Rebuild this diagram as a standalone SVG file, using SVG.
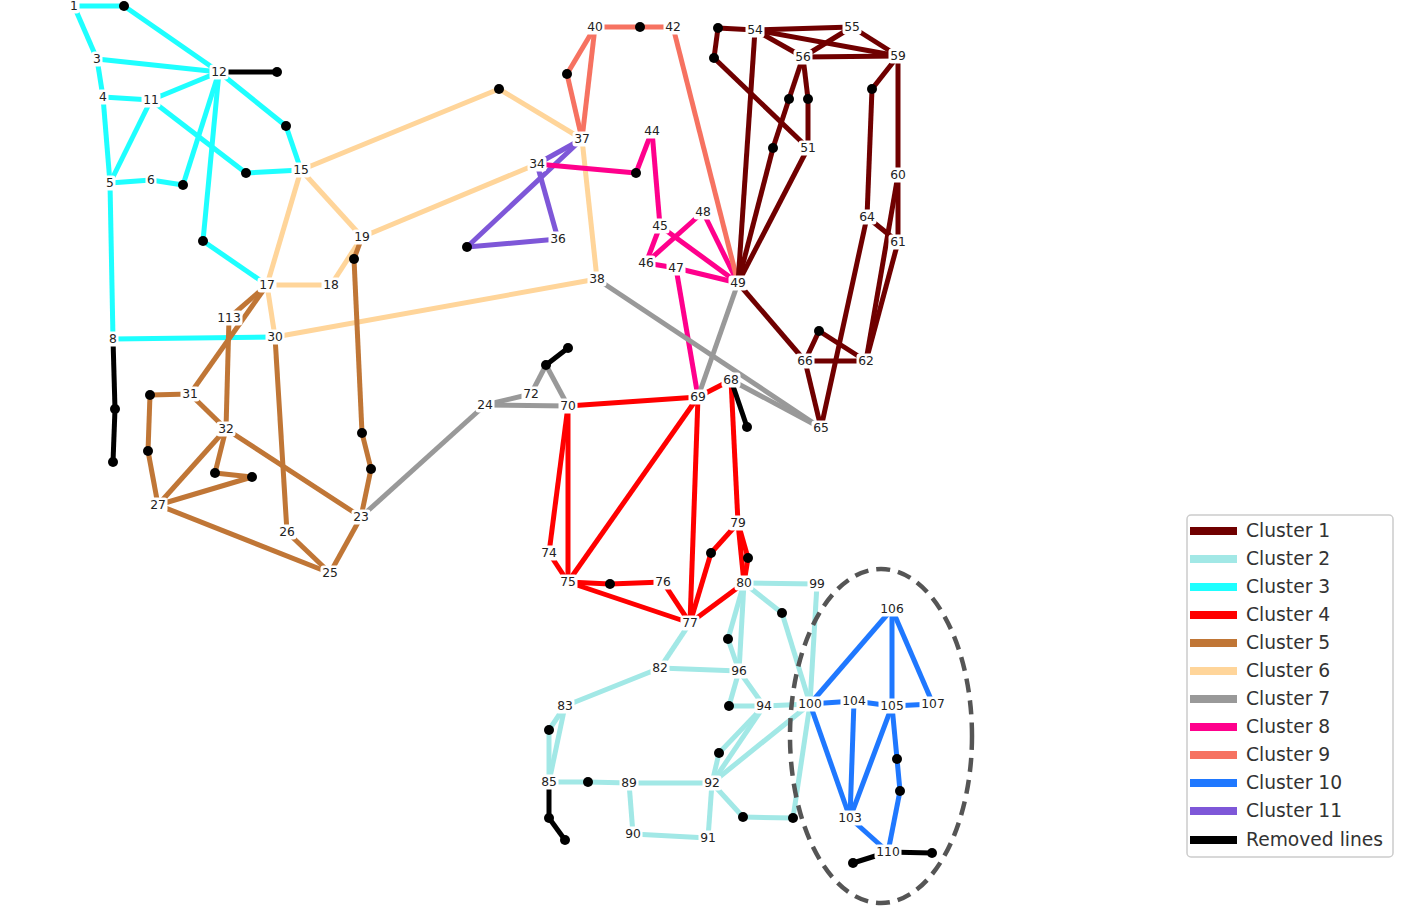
<svg xmlns="http://www.w3.org/2000/svg" width="1424" height="916" viewBox="0 0 1424 916">
<style>
.e line{stroke-width:5;stroke-linecap:butt}
.c1 line{stroke:#700000}.c2 line{stroke:#A2E8E6}.c3 line{stroke:#1EFFFF}.c4 line{stroke:#FF0000}
.c5 line{stroke:#C07636}.c6 line{stroke:#FFD59A}.c7 line{stroke:#999999}.c8 line{stroke:#FF008C}
.c9 line{stroke:#F67261}.c10 line{stroke:#1F78FF}.c11 line{stroke:#7E57D8}.rm line{stroke:#000}
.node rect{fill:#fff;rx:3}
.node text{font-family:"DejaVu Sans",sans-serif;font-size:12.3px;fill:#222;text-anchor:middle;dominant-baseline:central}
.dots circle{fill:#000}
.lg text{font-family:"DejaVu Sans",sans-serif;font-size:18.7px;fill:#333;dominant-baseline:central}
.lg line{stroke-width:8}
</style>
<rect width="1424" height="916" fill="#fff"/>
<g id="connectors" class="e">
<g class="c6">
<line x1="301" y1="170" x2="267" y2="285"/><line x1="301" y1="170" x2="362" y2="237"/>
<line x1="267" y1="285" x2="331" y2="285"/><line x1="331" y1="285" x2="362" y2="237"/>
<line x1="267" y1="285" x2="275" y2="337"/><line x1="275" y1="337" x2="597" y2="279"/>
<line x1="362" y1="237" x2="537" y2="164"/><line x1="301" y1="170" x2="499" y2="89"/>
<line x1="499" y1="89" x2="582" y2="139"/><line x1="582" y1="139" x2="597" y2="279"/>
</g>
<g class="c3">
<line x1="74" y1="6" x2="124" y2="6"/><line x1="124" y1="6" x2="219" y2="72"/>
<line x1="74" y1="6" x2="97" y2="59"/><line x1="97" y1="59" x2="219" y2="72"/>
<line x1="97" y1="59" x2="103" y2="97"/><line x1="103" y1="97" x2="151" y2="100"/>
<line x1="151" y1="100" x2="219" y2="72"/><line x1="103" y1="97" x2="110" y2="183"/>
<line x1="151" y1="100" x2="110" y2="183"/><line x1="110" y1="183" x2="151" y2="180"/>
<line x1="151" y1="180" x2="183" y2="185"/><line x1="183" y1="185" x2="219" y2="72"/>
<line x1="219" y1="72" x2="203" y2="241"/><line x1="203" y1="241" x2="267" y2="285"/>
<line x1="151" y1="100" x2="246" y2="173"/><line x1="246" y1="173" x2="301" y2="170"/>
<line x1="219" y1="72" x2="286" y2="126"/><line x1="286" y1="126" x2="301" y2="170"/>
<line x1="110" y1="183" x2="113" y2="339"/><line x1="113" y1="339" x2="275" y2="337"/>
</g>
<g class="c5">
<line x1="267" y1="285" x2="229" y2="318"/><line x1="267" y1="285" x2="190" y2="394"/>
<line x1="229" y1="318" x2="226" y2="429"/><line x1="190" y1="394" x2="150" y2="395"/>
<line x1="150" y1="395" x2="148" y2="451"/><line x1="148" y1="451" x2="158" y2="505"/>
<line x1="190" y1="394" x2="226" y2="429"/><line x1="226" y1="429" x2="158" y2="505"/>
<line x1="226" y1="429" x2="215" y2="473"/><line x1="215" y1="473" x2="252" y2="477"/>
<line x1="252" y1="477" x2="158" y2="505"/><line x1="158" y1="505" x2="330" y2="573"/>
<line x1="226" y1="429" x2="361" y2="517"/><line x1="275" y1="337" x2="287" y2="532"/>
<line x1="287" y1="532" x2="330" y2="573"/><line x1="330" y1="573" x2="361" y2="517"/>
<line x1="361" y1="517" x2="371" y2="469"/><line x1="371" y1="469" x2="362" y2="433"/>
<line x1="362" y1="433" x2="354" y2="259"/><line x1="354" y1="259" x2="362" y2="237"/>
</g>
<g class="c11">
<line x1="537" y1="164" x2="582" y2="139"/><line x1="582" y1="139" x2="467" y2="247"/>
<line x1="467" y1="247" x2="558" y2="239"/><line x1="558" y1="239" x2="537" y2="164"/>
</g>
<g class="c8">
<line x1="537" y1="164" x2="636" y2="173"/><line x1="636" y1="173" x2="652" y2="131"/>
<line x1="652" y1="131" x2="660" y2="226"/><line x1="660" y1="226" x2="646" y2="263"/>
<line x1="646" y1="263" x2="703" y2="212"/><line x1="660" y1="226" x2="738" y2="283"/>
<line x1="703" y1="212" x2="738" y2="283"/><line x1="646" y1="263" x2="676" y2="268"/>
<line x1="676" y1="268" x2="738" y2="283"/><line x1="676" y1="268" x2="698" y2="397"/>
</g>
<g class="c9">
<line x1="595" y1="27" x2="640" y2="27"/><line x1="640" y1="27" x2="673" y2="27"/>
<line x1="673" y1="27" x2="738" y2="283"/><line x1="595" y1="27" x2="567" y2="74"/>
<line x1="567" y1="74" x2="582" y2="139"/><line x1="595" y1="27" x2="582" y2="139"/>
</g>
<g class="c1">
<line x1="718" y1="28" x2="755" y2="30"/><line x1="718" y1="28" x2="714" y2="58"/>
<line x1="714" y1="58" x2="808" y2="148"/><line x1="755" y1="30" x2="738" y2="283"/>
<line x1="755" y1="30" x2="852" y2="27"/><line x1="755" y1="30" x2="803" y2="57"/>
<line x1="755" y1="30" x2="898" y2="56"/><line x1="852" y1="27" x2="803" y2="57"/>
<line x1="852" y1="27" x2="898" y2="56"/><line x1="803" y1="57" x2="898" y2="56"/>
<line x1="803" y1="57" x2="789" y2="99"/><line x1="789" y1="99" x2="773" y2="148"/>
<line x1="773" y1="148" x2="738" y2="283"/><line x1="803" y1="57" x2="808" y2="99"/>
<line x1="808" y1="99" x2="808" y2="148"/><line x1="808" y1="148" x2="738" y2="283"/>
<line x1="898" y1="56" x2="872" y2="89"/><line x1="872" y1="89" x2="867" y2="217"/>
<line x1="898" y1="56" x2="898" y2="175"/><line x1="898" y1="175" x2="898" y2="242"/>
<line x1="898" y1="175" x2="866" y2="361"/><line x1="898" y1="242" x2="866" y2="361"/>
<line x1="867" y1="217" x2="898" y2="242"/><line x1="867" y1="217" x2="821" y2="428"/>
<line x1="738" y1="283" x2="805" y2="361"/><line x1="805" y1="361" x2="866" y2="361"/>
<line x1="805" y1="361" x2="819" y2="331"/><line x1="819" y1="331" x2="866" y2="361"/>
<line x1="805" y1="361" x2="821" y2="428"/>
</g>
<g class="c7">
<line x1="546" y1="365" x2="531" y2="394"/><line x1="546" y1="365" x2="568" y2="406"/>
<line x1="531" y1="394" x2="485" y2="405"/><line x1="485" y1="405" x2="568" y2="406"/>
<line x1="485" y1="405" x2="361" y2="517"/><line x1="597" y1="279" x2="821" y2="428"/>
<line x1="738" y1="283" x2="698" y2="397"/><line x1="731" y1="380" x2="821" y2="428"/>
</g>
<g class="c4">
<line x1="568" y1="406" x2="698" y2="397"/><line x1="698" y1="397" x2="731" y2="380"/>
<line x1="568" y1="406" x2="549" y2="553"/><line x1="568" y1="406" x2="568" y2="582"/>
<line x1="549" y1="553" x2="568" y2="582"/><line x1="698" y1="397" x2="568" y2="582"/>
<line x1="698" y1="397" x2="690" y2="623"/><line x1="731" y1="380" x2="738" y2="523"/>
<line x1="738" y1="523" x2="744" y2="583"/><line x1="738" y1="523" x2="748" y2="558"/>
<line x1="748" y1="558" x2="744" y2="583"/><line x1="738" y1="523" x2="711" y2="553"/>
<line x1="711" y1="553" x2="690" y2="623"/><line x1="568" y1="582" x2="610" y2="584"/>
<line x1="610" y1="584" x2="663" y2="582"/><line x1="663" y1="582" x2="690" y2="623"/>
<line x1="568" y1="582" x2="690" y2="623"/><line x1="744" y1="583" x2="690" y2="623"/>
</g>
<g class="c2">
<line x1="690" y1="623" x2="660" y2="668"/><line x1="660" y1="668" x2="739" y2="671"/>
<line x1="660" y1="668" x2="565" y2="706"/><line x1="744" y1="583" x2="817" y2="584"/>
<line x1="744" y1="583" x2="728" y2="639"/><line x1="728" y1="639" x2="739" y2="671"/>
<line x1="744" y1="583" x2="739" y2="671"/><line x1="744" y1="583" x2="782" y2="613"/>
<line x1="782" y1="613" x2="810" y2="704"/><line x1="817" y1="584" x2="810" y2="704"/>
<line x1="739" y1="671" x2="729" y2="706"/><line x1="729" y1="706" x2="764" y2="706"/>
<line x1="739" y1="671" x2="764" y2="706"/><line x1="764" y1="706" x2="810" y2="704"/>
<line x1="764" y1="706" x2="719" y2="753"/><line x1="719" y1="753" x2="712" y2="783"/>
<line x1="764" y1="706" x2="712" y2="783"/><line x1="810" y1="704" x2="712" y2="783"/>
<line x1="810" y1="704" x2="793" y2="818"/><line x1="793" y1="818" x2="743" y2="817"/>
<line x1="743" y1="817" x2="712" y2="783"/><line x1="565" y1="706" x2="549" y2="730"/>
<line x1="549" y1="730" x2="549" y2="782"/><line x1="565" y1="706" x2="549" y2="782"/>
<line x1="549" y1="782" x2="588" y2="782"/><line x1="588" y1="782" x2="629" y2="783"/>
<line x1="629" y1="783" x2="712" y2="783"/><line x1="629" y1="783" x2="633" y2="834"/>
<line x1="633" y1="834" x2="708" y2="838"/><line x1="708" y1="838" x2="712" y2="783"/>
</g>
<g class="c10">
<line x1="810" y1="704" x2="892" y2="609"/><line x1="892" y1="609" x2="892" y2="706"/>
<line x1="892" y1="609" x2="933" y2="704"/><line x1="810" y1="704" x2="854" y2="701"/>
<line x1="854" y1="701" x2="892" y2="706"/><line x1="892" y1="706" x2="933" y2="704"/>
<line x1="810" y1="704" x2="850" y2="818"/><line x1="854" y1="701" x2="850" y2="818"/>
<line x1="892" y1="706" x2="850" y2="818"/><line x1="892" y1="706" x2="897" y2="759"/>
<line x1="897" y1="759" x2="900" y2="791"/><line x1="900" y1="791" x2="888" y2="852"/>
<line x1="850" y1="818" x2="888" y2="852"/>
</g>
<g class="rm">
<line x1="219" y1="72" x2="277" y2="72"/><line x1="113" y1="339" x2="115" y2="409"/>
<line x1="115" y1="409" x2="113" y2="462"/><line x1="546" y1="365" x2="568" y2="348"/>
<line x1="731" y1="380" x2="747" y2="427"/><line x1="549" y1="782" x2="549" y2="818"/>
<line x1="549" y1="818" x2="565" y2="840"/><line x1="888" y1="852" x2="853" y2="863"/>
<line x1="888" y1="852" x2="932" y2="853"/>
</g>
</g>
<g id="junctions" class="dots">
<circle cx="124" cy="6" r="5"/><circle cx="277" cy="72" r="5"/><circle cx="286" cy="126" r="5"/>
<circle cx="246" cy="173" r="5"/><circle cx="183" cy="185" r="5"/><circle cx="203" cy="241" r="5"/>
<circle cx="354" cy="259" r="5"/><circle cx="499" cy="89" r="5"/><circle cx="567" cy="74" r="5"/>
<circle cx="640" cy="27" r="5"/><circle cx="636" cy="173" r="5"/><circle cx="467" cy="247" r="5"/>
<circle cx="718" cy="28" r="5"/><circle cx="714" cy="58" r="5"/><circle cx="789" cy="99" r="5"/>
<circle cx="808" cy="99" r="5"/><circle cx="773" cy="148" r="5"/><circle cx="872" cy="89" r="5"/>
<circle cx="819" cy="331" r="5"/><circle cx="747" cy="427" r="5"/><circle cx="546" cy="365" r="5"/>
<circle cx="568" cy="348" r="5"/><circle cx="115" cy="409" r="5"/><circle cx="113" cy="462" r="5"/>
<circle cx="150" cy="395" r="5"/><circle cx="148" cy="451" r="5"/><circle cx="215" cy="473" r="5"/>
<circle cx="252" cy="477" r="5"/><circle cx="362" cy="433" r="5"/><circle cx="371" cy="469" r="5"/>
<circle cx="711" cy="553" r="5"/><circle cx="748" cy="558" r="5"/><circle cx="610" cy="584" r="5"/>
<circle cx="782" cy="613" r="5"/><circle cx="728" cy="639" r="5"/><circle cx="729" cy="706" r="5"/>
<circle cx="719" cy="753" r="5"/><circle cx="549" cy="730" r="5"/><circle cx="588" cy="782" r="5"/>
<circle cx="549" cy="818" r="5"/><circle cx="565" cy="840" r="5"/><circle cx="743" cy="817" r="5"/>
<circle cx="793" cy="818" r="5"/><circle cx="897" cy="759" r="5"/><circle cx="900" cy="791" r="5"/>
<circle cx="853" cy="863" r="5"/><circle cx="932" cy="853" r="5"/>
</g>
<ellipse id="highlight" cx="881" cy="736" rx="91" ry="167" fill="none" stroke="#555" stroke-width="4.5" stroke-dasharray="14 8"/>
<g id="nodes">
<g id="n1" class="node"><rect x="68.5" y="-1.5" width="11" height="15"/><text x="74" y="6">1</text></g>
<g id="n3" class="node"><rect x="91.5" y="51.5" width="11" height="15"/><text x="97" y="59">3</text></g>
<g id="n4" class="node"><rect x="97.5" y="89.5" width="11" height="15"/><text x="103" y="97">4</text></g>
<g id="n5" class="node"><rect x="104.5" y="175.5" width="11" height="15"/><text x="110" y="183">5</text></g>
<g id="n6" class="node"><rect x="145.5" y="172.5" width="11" height="15"/><text x="151" y="180">6</text></g>
<g id="n8" class="node"><rect x="107.5" y="331.5" width="11" height="15"/><text x="113" y="339">8</text></g>
<g id="n11" class="node"><rect x="141.5" y="92.5" width="19" height="15"/><text x="151" y="100">11</text></g>
<g id="n12" class="node"><rect x="209.5" y="64.5" width="19" height="15"/><text x="219" y="72">12</text></g>
<g id="n15" class="node"><rect x="291.5" y="162.5" width="19" height="15"/><text x="301" y="170">15</text></g>
<g id="n17" class="node"><rect x="257.5" y="277.5" width="19" height="15"/><text x="267" y="285">17</text></g>
<g id="n18" class="node"><rect x="321.5" y="277.5" width="19" height="15"/><text x="331" y="285">18</text></g>
<g id="n19" class="node"><rect x="352.5" y="229.5" width="19" height="15"/><text x="362" y="237">19</text></g>
<g id="n23" class="node"><rect x="351.5" y="509.5" width="19" height="15"/><text x="361" y="517">23</text></g>
<g id="n24" class="node"><rect x="475.5" y="397.5" width="19" height="15"/><text x="485" y="405">24</text></g>
<g id="n25" class="node"><rect x="320.5" y="565.5" width="19" height="15"/><text x="330" y="573">25</text></g>
<g id="n26" class="node"><rect x="277.5" y="524.5" width="19" height="15"/><text x="287" y="532">26</text></g>
<g id="n27" class="node"><rect x="148.5" y="497.5" width="19" height="15"/><text x="158" y="505">27</text></g>
<g id="n30" class="node"><rect x="265.5" y="329.5" width="19" height="15"/><text x="275" y="337">30</text></g>
<g id="n31" class="node"><rect x="180.5" y="386.5" width="19" height="15"/><text x="190" y="394">31</text></g>
<g id="n32" class="node"><rect x="216.5" y="421.5" width="19" height="15"/><text x="226" y="429">32</text></g>
<g id="n34" class="node"><rect x="527.5" y="156.5" width="19" height="15"/><text x="537" y="164">34</text></g>
<g id="n36" class="node"><rect x="548.5" y="231.5" width="19" height="15"/><text x="558" y="239">36</text></g>
<g id="n37" class="node"><rect x="572.5" y="131.5" width="19" height="15"/><text x="582" y="139">37</text></g>
<g id="n38" class="node"><rect x="587.5" y="271.5" width="19" height="15"/><text x="597" y="279">38</text></g>
<g id="n40" class="node"><rect x="585.5" y="19.5" width="19" height="15"/><text x="595" y="27">40</text></g>
<g id="n42" class="node"><rect x="663.5" y="19.5" width="19" height="15"/><text x="673" y="27">42</text></g>
<g id="n44" class="node"><rect x="642.5" y="123.5" width="19" height="15"/><text x="652" y="131">44</text></g>
<g id="n45" class="node"><rect x="650.5" y="218.5" width="19" height="15"/><text x="660" y="226">45</text></g>
<g id="n46" class="node"><rect x="636.5" y="255.5" width="19" height="15"/><text x="646" y="263">46</text></g>
<g id="n47" class="node"><rect x="666.5" y="260.5" width="19" height="15"/><text x="676" y="268">47</text></g>
<g id="n48" class="node"><rect x="693.5" y="204.5" width="19" height="15"/><text x="703" y="212">48</text></g>
<g id="n49" class="node"><rect x="728.5" y="275.5" width="19" height="15"/><text x="738" y="283">49</text></g>
<g id="n51" class="node"><rect x="798.5" y="140.5" width="19" height="15"/><text x="808" y="148">51</text></g>
<g id="n54" class="node"><rect x="745.5" y="22.5" width="19" height="15"/><text x="755" y="30">54</text></g>
<g id="n55" class="node"><rect x="842.5" y="19.5" width="19" height="15"/><text x="852" y="27">55</text></g>
<g id="n56" class="node"><rect x="793.5" y="49.5" width="19" height="15"/><text x="803" y="57">56</text></g>
<g id="n59" class="node"><rect x="888.5" y="48.5" width="19" height="15"/><text x="898" y="56">59</text></g>
<g id="n60" class="node"><rect x="888.5" y="167.5" width="19" height="15"/><text x="898" y="175">60</text></g>
<g id="n61" class="node"><rect x="888.5" y="234.5" width="19" height="15"/><text x="898" y="242">61</text></g>
<g id="n62" class="node"><rect x="856.5" y="353.5" width="19" height="15"/><text x="866" y="361">62</text></g>
<g id="n64" class="node"><rect x="857.5" y="209.5" width="19" height="15"/><text x="867" y="217">64</text></g>
<g id="n65" class="node"><rect x="811.5" y="420.5" width="19" height="15"/><text x="821" y="428">65</text></g>
<g id="n66" class="node"><rect x="795.5" y="353.5" width="19" height="15"/><text x="805" y="361">66</text></g>
<g id="n68" class="node"><rect x="721.5" y="372.5" width="19" height="15"/><text x="731" y="380">68</text></g>
<g id="n69" class="node"><rect x="688.5" y="389.5" width="19" height="15"/><text x="698" y="397">69</text></g>
<g id="n70" class="node"><rect x="558.5" y="398.5" width="19" height="15"/><text x="568" y="406">70</text></g>
<g id="n72" class="node"><rect x="521.5" y="386.5" width="19" height="15"/><text x="531" y="394">72</text></g>
<g id="n74" class="node"><rect x="539.5" y="545.5" width="19" height="15"/><text x="549" y="553">74</text></g>
<g id="n75" class="node"><rect x="558.5" y="574.5" width="19" height="15"/><text x="568" y="582">75</text></g>
<g id="n76" class="node"><rect x="653.5" y="574.5" width="19" height="15"/><text x="663" y="582">76</text></g>
<g id="n77" class="node"><rect x="680.5" y="615.5" width="19" height="15"/><text x="690" y="623">77</text></g>
<g id="n79" class="node"><rect x="728.5" y="515.5" width="19" height="15"/><text x="738" y="523">79</text></g>
<g id="n80" class="node"><rect x="734.5" y="575.5" width="19" height="15"/><text x="744" y="583">80</text></g>
<g id="n82" class="node"><rect x="650.5" y="660.5" width="19" height="15"/><text x="660" y="668">82</text></g>
<g id="n83" class="node"><rect x="555.5" y="698.5" width="19" height="15"/><text x="565" y="706">83</text></g>
<g id="n85" class="node"><rect x="539.5" y="774.5" width="19" height="15"/><text x="549" y="782">85</text></g>
<g id="n89" class="node"><rect x="619.5" y="775.5" width="19" height="15"/><text x="629" y="783">89</text></g>
<g id="n90" class="node"><rect x="623.5" y="826.5" width="19" height="15"/><text x="633" y="834">90</text></g>
<g id="n91" class="node"><rect x="698.5" y="830.5" width="19" height="15"/><text x="708" y="838">91</text></g>
<g id="n92" class="node"><rect x="702.5" y="775.5" width="19" height="15"/><text x="712" y="783">92</text></g>
<g id="n94" class="node"><rect x="754.5" y="698.5" width="19" height="15"/><text x="764" y="706">94</text></g>
<g id="n96" class="node"><rect x="729.5" y="663.5" width="19" height="15"/><text x="739" y="671">96</text></g>
<g id="n99" class="node"><rect x="807.5" y="576.5" width="19" height="15"/><text x="817" y="584">99</text></g>
<g id="n100" class="node"><rect x="796.5" y="696.5" width="27" height="15"/><text x="810" y="704">100</text></g>
<g id="n103" class="node"><rect x="836.5" y="810.5" width="27" height="15"/><text x="850" y="818">103</text></g>
<g id="n104" class="node"><rect x="840.5" y="693.5" width="27" height="15"/><text x="854" y="701">104</text></g>
<g id="n105" class="node"><rect x="878.5" y="698.5" width="27" height="15"/><text x="892" y="706">105</text></g>
<g id="n106" class="node"><rect x="878.5" y="601.5" width="27" height="15"/><text x="892" y="609">106</text></g>
<g id="n107" class="node"><rect x="919.5" y="696.5" width="27" height="15"/><text x="933" y="704">107</text></g>
<g id="n110" class="node"><rect x="874.5" y="844.5" width="27" height="15"/><text x="888" y="852">110</text></g>
<g id="n113" class="node"><rect x="215.5" y="310.5" width="27" height="15"/><text x="229" y="318">113</text></g>
</g>
<g id="legend" class="lg">
<rect x="1187" y="515" width="206" height="342" rx="4" fill="#fff" stroke="#ccc" stroke-width="1.5"/>
<line x1="1190" y1="531" x2="1237" y2="531" stroke="#700000"/><text x="1246" y="530">Cluster 1</text>
<line x1="1190" y1="559" x2="1237" y2="559" stroke="#A2E8E6"/><text x="1246" y="558">Cluster 2</text>
<line x1="1190" y1="587" x2="1237" y2="587" stroke="#1EFFFF"/><text x="1246" y="586">Cluster 3</text>
<line x1="1190" y1="615" x2="1237" y2="615" stroke="#FF0000"/><text x="1246" y="614">Cluster 4</text>
<line x1="1190" y1="643" x2="1237" y2="643" stroke="#C07636"/><text x="1246" y="642">Cluster 5</text>
<line x1="1190" y1="671" x2="1237" y2="671" stroke="#FFD59A"/><text x="1246" y="670">Cluster 6</text>
<line x1="1190" y1="699" x2="1237" y2="699" stroke="#999999"/><text x="1246" y="698">Cluster 7</text>
<line x1="1190" y1="727" x2="1237" y2="727" stroke="#FF008C"/><text x="1246" y="726">Cluster 8</text>
<line x1="1190" y1="755" x2="1237" y2="755" stroke="#F67261"/><text x="1246" y="754">Cluster 9</text>
<line x1="1190" y1="783" x2="1237" y2="783" stroke="#1F78FF"/><text x="1246" y="782">Cluster 10</text>
<line x1="1190" y1="811" x2="1237" y2="811" stroke="#7E57D8"/><text x="1246" y="810">Cluster 11</text>
<line x1="1190" y1="840" x2="1237" y2="840" stroke="#000"/><text x="1246" y="839">Removed lines</text>
</g>
</svg>
